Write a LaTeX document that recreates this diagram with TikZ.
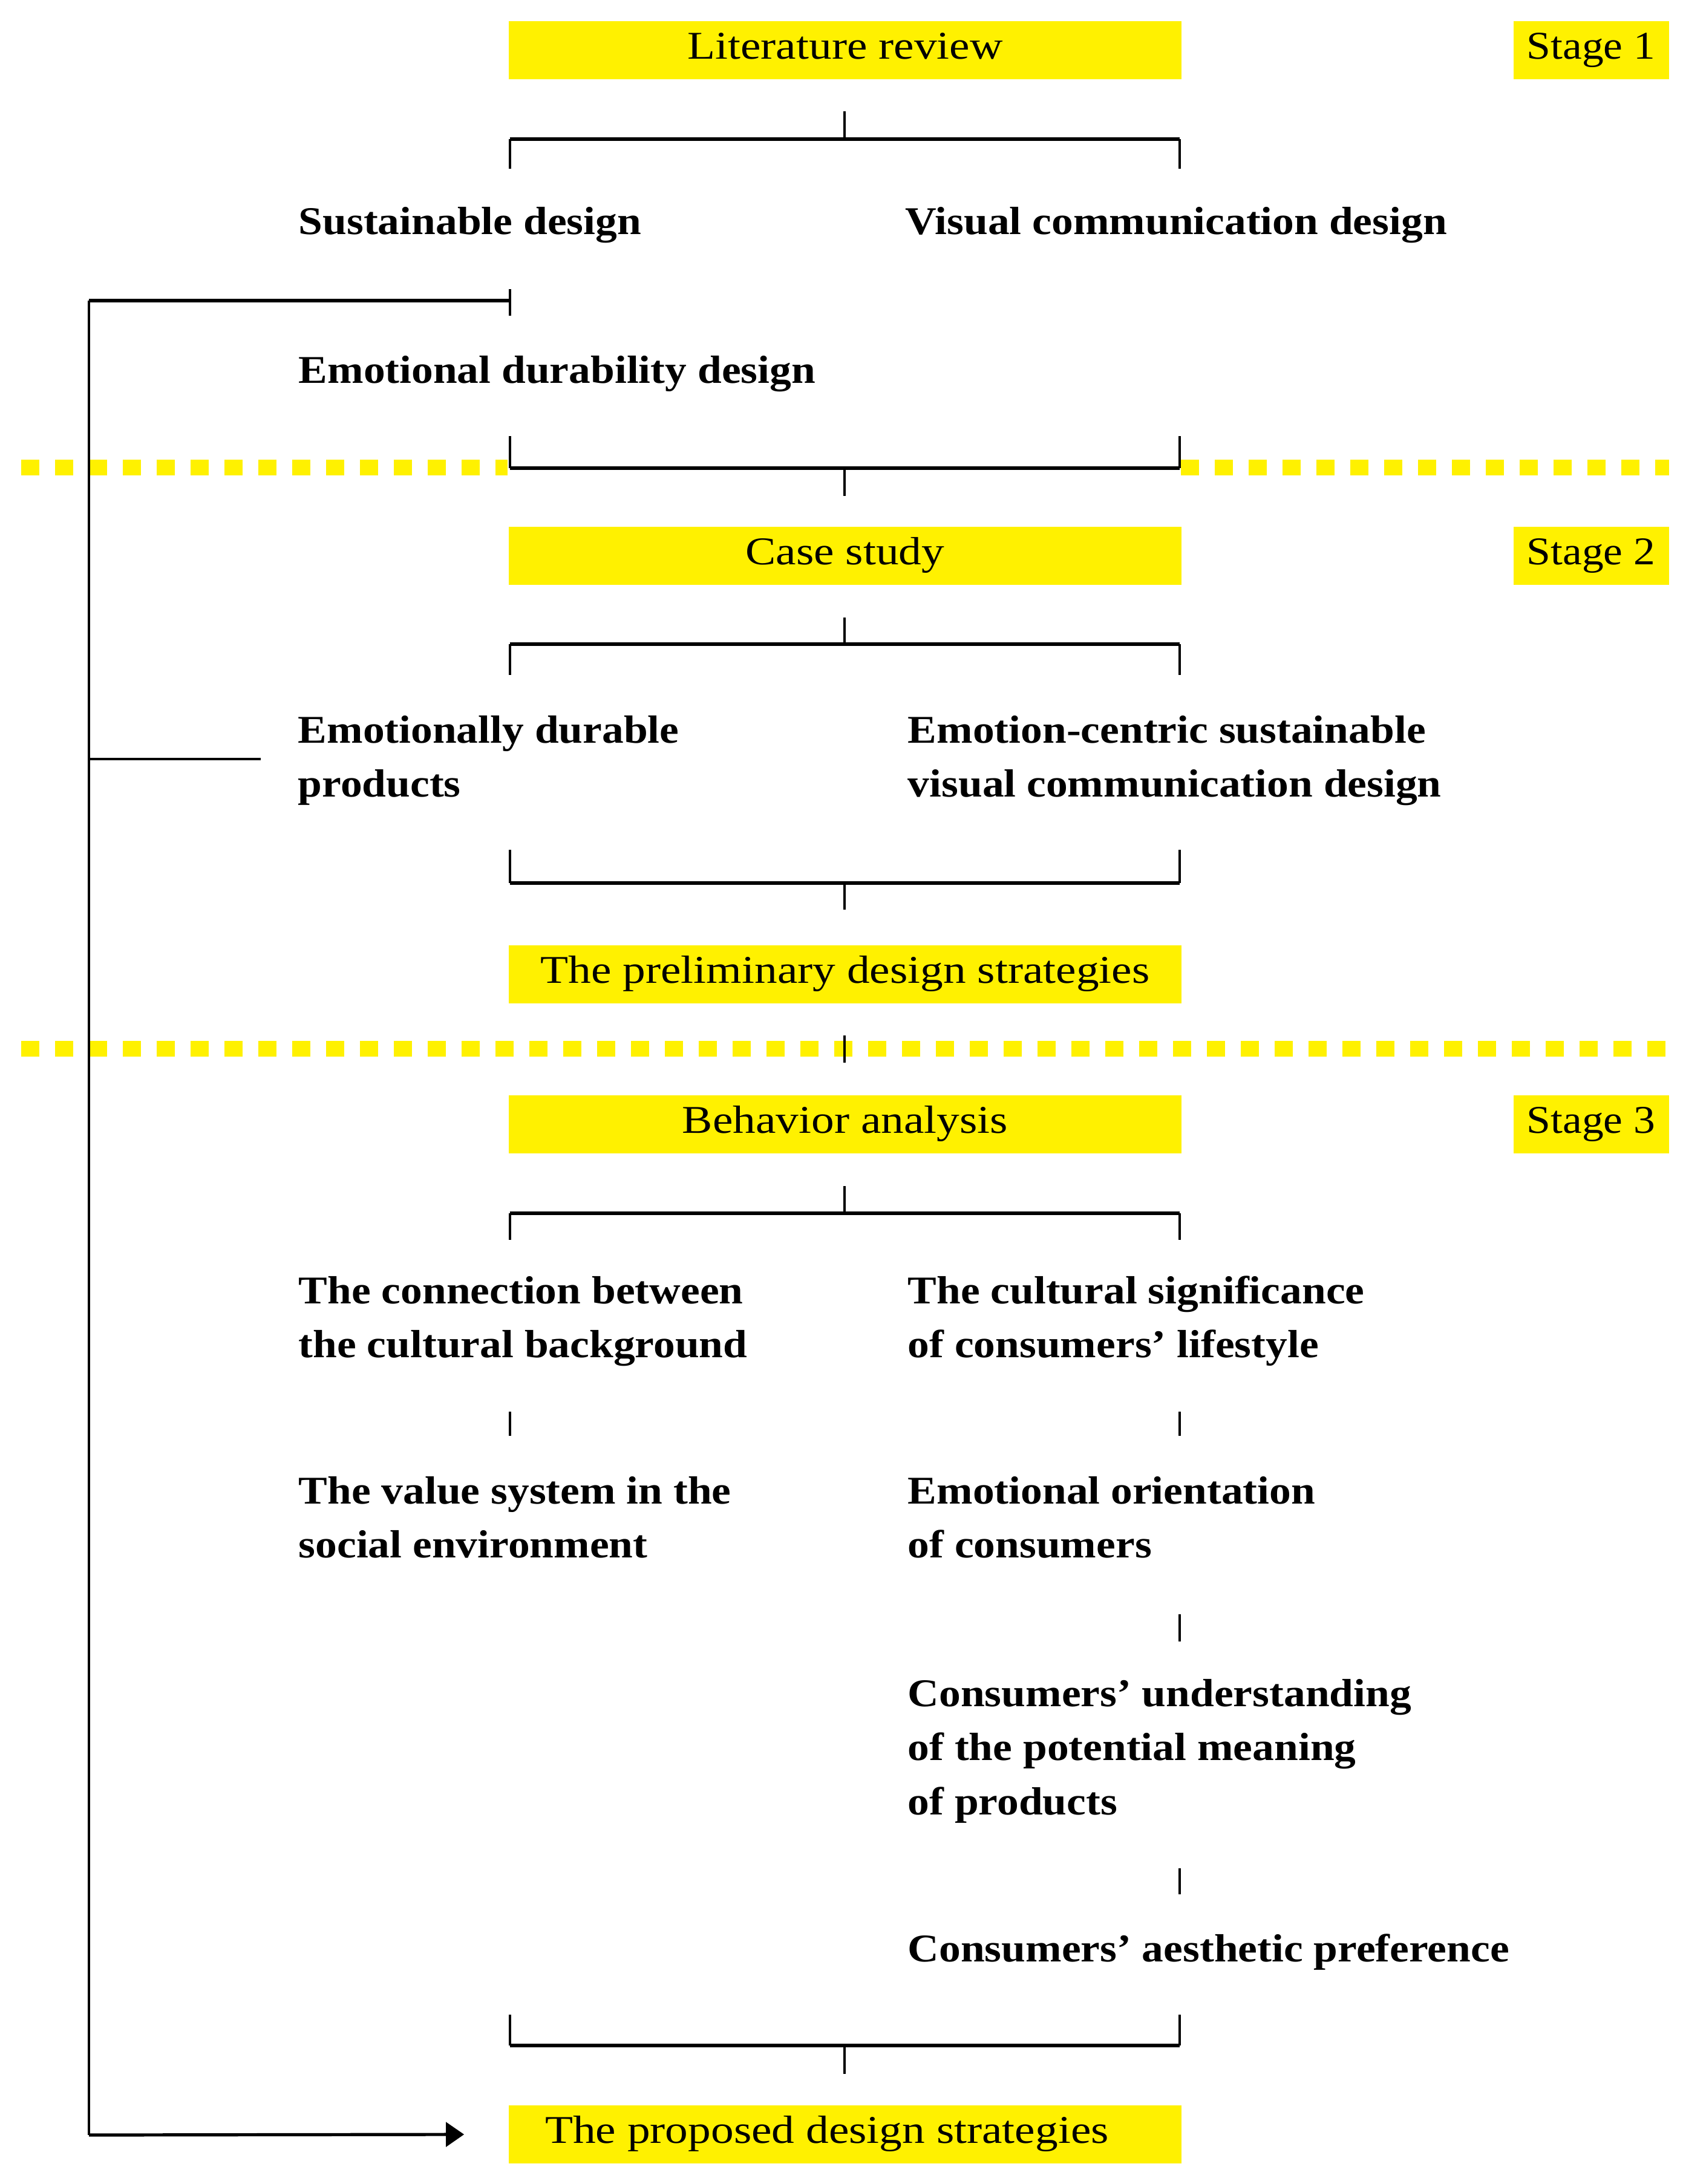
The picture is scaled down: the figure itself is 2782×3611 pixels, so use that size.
\documentclass[tikz,border=0pt]{standalone}
\usepackage{fontspec}
\setmainfont{Liberation Serif}
\newfontfamily\boxfont[FakeStretch=1.16]{Liberation Serif}
\newfontfamily\stagefont[FakeStretch=1.1]{Liberation Serif}
\newfontfamily\lblfont[FakeStretch=1.1]{Liberation Serif}
\usetikzlibrary{arrows.meta}
\definecolor{yel}{RGB}{255,241,0}
\newcommand\mlines[1]{\begin{tabular}[t]{@{}l@{}}#1\end{tabular}}
\tikzset{
  ybox/.style={fill=yel, minimum width=278pt, minimum height=24pt, inner sep=0pt,
    text height=15.5pt, text depth=8.5pt,
    font=\boxfont\fontsize{16.25}{22.4}\selectfont},
  stagebox/.style={fill=yel, minimum width=64.25pt, minimum height=24pt, inner sep=0pt,
    text height=15.5pt, text depth=8.5pt,
    font=\stagefont\fontsize{16.25}{22.4}\selectfont},
  lbl/.style={anchor=base west, inner sep=0pt, font=\lblfont\fontsize{16.25}{22.4}\selectfont\bfseries},
  thin/.style={line width=0.9pt},
  thick/.style={line width=1.3pt},
  ydash/.style={yel, line width=6.5pt, dash pattern=on 7.5pt off 6.5pt}
}
\begin{document}
\begin{tikzpicture}[x=0.25pt,y=-0.25pt]
\useasboundingbox (0,0) rectangle (2782,3611);

% yellow dashed separators
\draw[ydash] (35,773) -- (839,773);
\draw[ydash] (1952,773) -- (2759,773);
\draw[ydash] (35,1734) -- (2759,1734);

% boxes
\node[ybox] (lit) at (1397,83) {Literature review};
\node[stagebox] (s1) at (2630,83) {Stage 1};
\node[ybox] (case) at (1397,919) {Case study};
\node[stagebox] (s2) at (2630,919) {Stage 2};
\node[ybox] (prel) at (1397,1611) {The preliminary design strategies};
\node[ybox] (beh) at (1397,1859) {Behavior analysis};
\node[stagebox] (s3) at (2630,1859) {Stage 3};
\node[ybox] (prop) at (1397,3529) {The proposed design strategies\hspace*{15pt}};

% labels
\node[lbl] (sus) at (493,387) {Sustainable design};
\node[lbl] (vis) at (1496,387) {Visual communication design};
\node[lbl] (emo) at (493,633) {Emotional durability design};
\node[lbl] (edp) at (492,1228) {\mlines{Emotionally durable\\products}};
\node[lbl] (ecs) at (1500,1228) {\mlines{Emotion-centric sustainable\\visual communication design}};
\node[lbl] (conn) at (493,2155) {\mlines{The connection between\\the cultural background}};
\node[lbl] (cult) at (1500,2155) {\mlines{The cultural significance\\of consumers’ lifestyle}};
\node[lbl] (val) at (493,2486) {\mlines{The value system in the\\social environment}};
\node[lbl] (eor) at (1500,2486) {\mlines{Emotional orientation\\of consumers}};
\node[lbl] (und) at (1500,2821) {\mlines{Consumers’ understanding\\of the potential meaning\\of products}};
\node[lbl] (aes) at (1500,3243) {Consumers’ aesthetic preference};

% coordinates
\coordinate (L) at (843,0);
\coordinate (R) at (1950,0);
\coordinate (C) at (1396,0);

% bracket 1
\draw[thin] (C |- 0,184) -- (C |- 0,230);
\draw[thin] (L |- 0,230) -- (L |- 0,279);
\draw[thin] (R |- 0,230) -- (R |- 0,279);
\draw[thick] (L |- 0,230) -- (R |- 0,230);

% tick between sustainable and emotional, with feedback line
\draw[thin] (L |- 0,478) -- (L |- 0,522);
\coordinate (fb0) at (147,497);
\coordinate (fb1) at (147,1255);
\coordinate (fb2) at (147,3530);
\draw[thick] (fb0) -- (L |- fb0);
\draw[thin] (fb1) -- (431,1255);

% bracket 2
\draw[thin] (L |- 0,721) -- (L |- 0,774);
\draw[thin] (R |- 0,721) -- (R |- 0,774);
\draw[thick] (L |- 0,774) -- (R |- 0,774);
\draw[thin] (C |- 0,774) -- (C |- 0,820);

% bracket 3
\draw[thin] (C |- 0,1021) -- (C |- 0,1065);
\draw[thick] (L |- 0,1065) -- (R |- 0,1065);
\draw[thin] (L |- 0,1065) -- (L |- 0,1116);
\draw[thin] (R |- 0,1065) -- (R |- 0,1116);

% bracket 4
\draw[thin] (L |- 0,1405) -- (L |- 0,1460);
\draw[thin] (R |- 0,1405) -- (R |- 0,1460);
\draw[thick] (L |- 0,1460) -- (R |- 0,1460);
\draw[thin] (C |- 0,1460) -- (C |- 0,1504);

% centre tick over second separator
\draw[thin] (C |- 0,1712) -- (C |- 0,1757);

% bracket 5
\draw[thin] (C |- 0,1961) -- (C |- 0,2006);
\draw[thick] (L |- 0,2006) -- (R |- 0,2006);
\draw[thin] (L |- 0,2006) -- (L |- 0,2050);
\draw[thin] (R |- 0,2006) -- (R |- 0,2050);

% ticks
\draw[thin] (L |- 0,2334) -- (L |- 0,2374);
\draw[thin] (R |- 0,2334) -- (R |- 0,2374);
\draw[thin] (R |- 0,2669) -- (R |- 0,2714);
\draw[thin] (R |- 0,3089) -- (R |- 0,3132);

% bracket 6
\draw[thin] (L |- 0,3331) -- (L |- 0,3382);
\draw[thin] (R |- 0,3331) -- (R |- 0,3382);
\draw[thick] (L |- 0,3382) -- (R |- 0,3382);
\draw[thin] (C |- 0,3382) -- (C |- 0,3429);

% feedback line and arrow
\draw[thin] (fb0) -- (fb2);
\draw[thick, -{Triangle[length=7.5pt,width=10pt]}] (fb2) -- ([xshift=-18.25pt]prop.west);
\end{tikzpicture}
\end{document}
